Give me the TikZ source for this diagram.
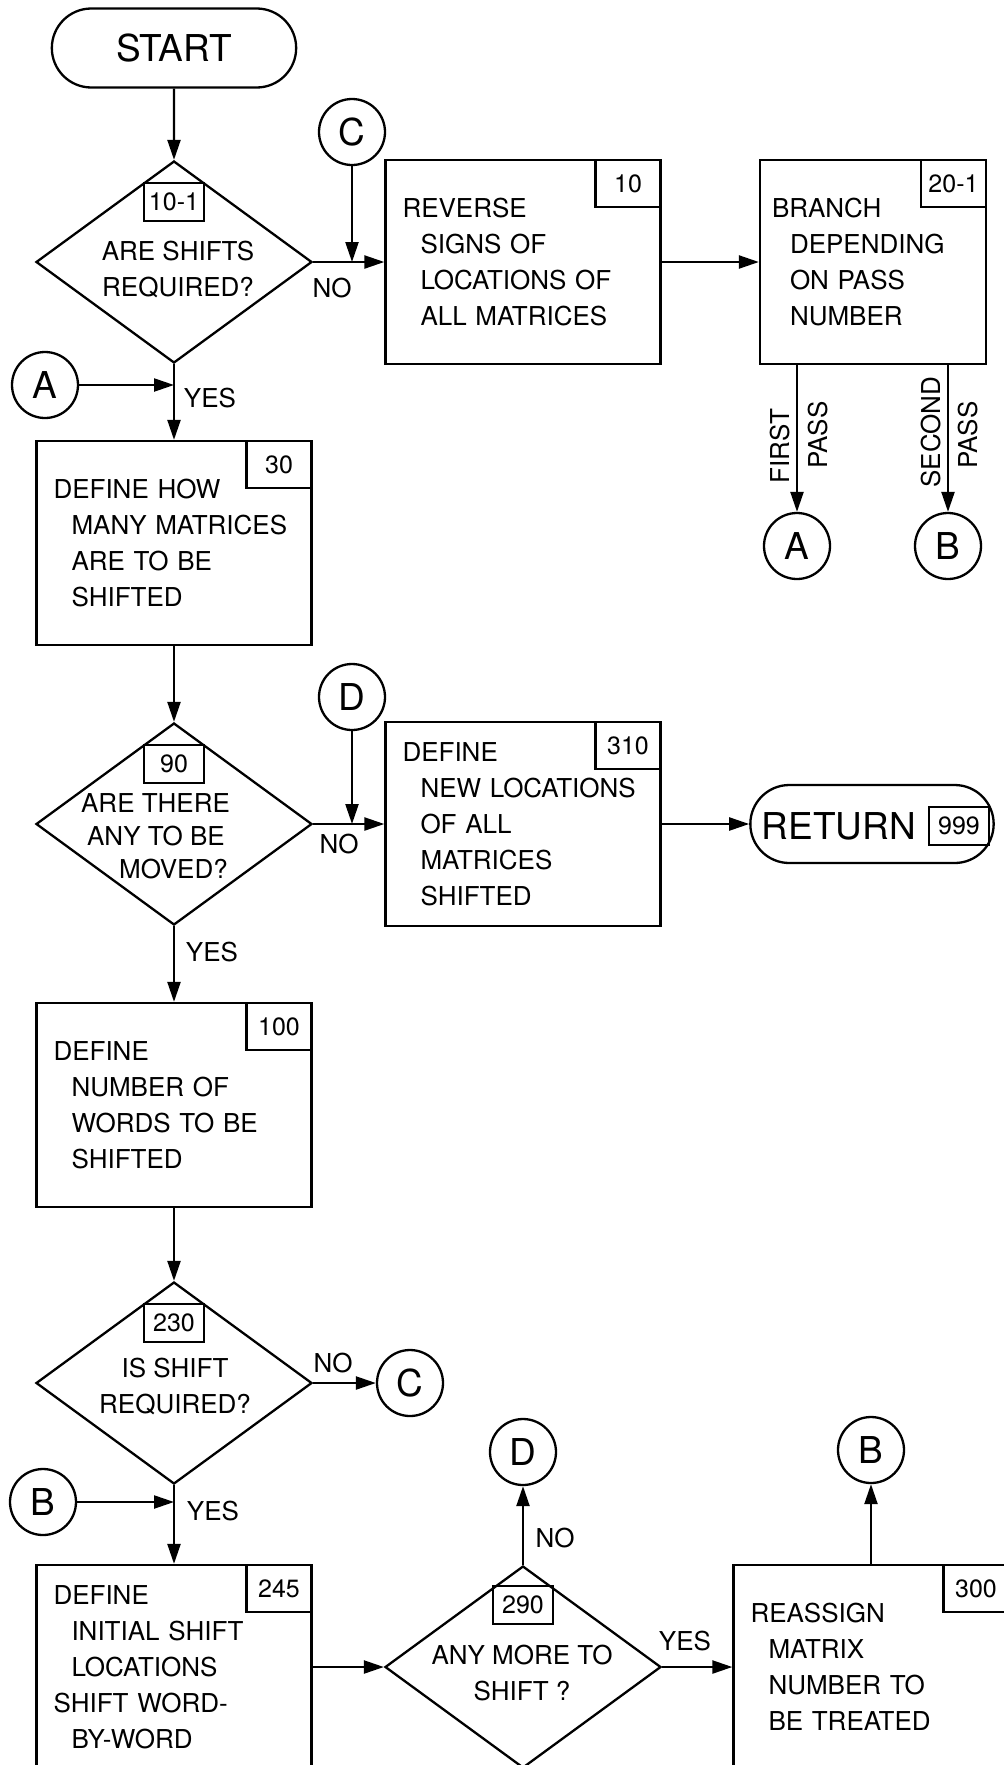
\documentclass[tikz,border=0pt]{standalone}
\usepackage{fontspec}
\setmainfont{TeX Gyre Heros}
\usetikzlibrary{arrows.meta, shapes.geometric, shapes.misc}

\newcommand\lettering{\fontsize{26}{36}\selectfont}
\newcommand\tagsize{\fontsize{25}{28}\selectfont}
\newcommand\bigsize{\fontsize{37}{40}\selectfont}
\newcommand\indnt{\hspace*{18pt}}

\begin{document}
\begin{tikzpicture}[x=1pt, y=-1pt, line width=2.3pt, >={Triangle[length=20pt, width=13pt]},
  term/.style={draw, rounded rectangle, minimum width=251pt, minimum height=79pt, font=\bigsize},
  proc/.style={draw, rectangle, minimum width=275pt, minimum height=204pt,
               inner xsep=17pt, text width=241pt, align=left, font=\lettering},
  decision/.style={draw, diamond, minimum width=276pt, minimum height=202pt, inner sep=0pt},
  qtext/.style={align=center, font=\lettering, inner sep=0pt},
  boxtag/.style={draw, rectangle, minimum width=65pt, minimum height=47pt, inner sep=0pt, font=\tagsize},
  dtag/.style={draw, rectangle, minimum width=60pt, minimum height=38pt, inner sep=0pt, font=\tagsize},
  conn/.style={draw, circle, minimum size=66pt, inner sep=0pt, font=\bigsize},
  lbl/.style={font=\lettering, inner sep=0pt}]
  \useasboundingbox (0,0) rectangle (1004,1765);

  % top row
  \node[term] (start) at (174,48) {START};
  \node[decision] (d1) at (174,262) {};
  \node[dtag] (t101) at (174,202) {10-1};
  \node[qtext] (d1t) at (178,269) {ARE SHIFTS\\REQUIRED?};
  \node[conn] (c1) at (352,132) {C};
  \node[proc] (b10) at (523,262) {REVERSE\\\indnt SIGNS OF\\\indnt LOCATIONS OF\\\indnt ALL MATRICES};
  \node[boxtag, anchor=north east] (t10) at (b10.north east) {10};
  \node[proc, minimum width=226pt, text width=202pt, inner xsep=12pt] (b20) at (873,262)
    {BRANCH\\\indnt DEPENDING\\\indnt ON PASS\\\indnt NUMBER};
  \node[boxtag, anchor=north east] (t201) at (b20.north east) {20-1};
  \node[conn] (a2) at (797,546) {A};
  \node[conn] (bb2) at (948,546) {B};
  \node[lbl, rotate=90] (first) at (780,446) {FIRST};
  \node[lbl, rotate=90] (pass1) at (818,435) {PASS};
  \node[lbl, rotate=90] (second) at (931,432) {SECOND};
  \node[lbl, rotate=90] (pass2) at (968,435) {PASS};

  % second block
  \node[conn] (a1) at (45,385) {A};
  \node[proc] (b30) at (174,543) {DEFINE HOW\\\indnt MANY MATRICES\\\indnt ARE TO BE\\\indnt SHIFTED};
  \node[boxtag, anchor=north east] (t30) at (b30.north east) {30};
  \node[decision] (d2) at (174,824) {};
  \node[dtag] (t90) at (174,764) {90};
  \node[qtext, align=left, anchor=west, font=\fontsize{26}{33}\selectfont] (d2t) at (80,836)
    {ARE THERE\\\hspace*{6pt}ANY TO BE\\\hspace*{38pt}MOVED?};
  \node[conn] (dd1) at (352,697) {D};
  \node[proc] (b310) at (523,824) {DEFINE\\\indnt NEW LOCATIONS\\\indnt OF ALL\\\indnt MATRICES\\\indnt SHIFTED};
  \node[boxtag, anchor=north east] (t310) at (b310.north east) {310};
  \node[term, minimum width=250pt, minimum height=78pt] (ret) at (872,824) {};
  \node[font=\bigsize, inner sep=0pt] (rett) at (839,826) {RETURN};
  \node[dtag] (t999) at (959,826) {999};

  % third block
  \node[proc] (b100) at (174,1105) {DEFINE\\\indnt NUMBER OF\\\indnt WORDS TO BE\\\indnt SHIFTED};
  \node[boxtag, anchor=north east] (t100) at (b100.north east) {100};
  \node[decision] (d3) at (174,1383) {};
  \node[dtag] (t230) at (174,1323) {230};
  \node[qtext] (d3t) at (175,1386) {IS SHIFT\\REQUIRED?};
  \node[conn] (c2) at (410,1383) {C};
  \node[conn] (bb1) at (43,1502) {B};

  % bottom row
  \node[proc] (b245) at (174,1667) {DEFINE\\\indnt INITIAL SHIFT\\\indnt LOCATIONS\\SHIFT WORD-\\\indnt BY-WORD};
  \node[boxtag, anchor=north east] (t245) at (b245.north east) {245};
  \node[decision] (d4) at (523,1667) {};
  \node[dtag] (t290) at (523,1605) {290};
  \node[qtext] (d4t) at (522,1673) {ANY MORE TO\\SHIFT ?};
  \node[conn] (dd2) at (523,1452) {D};
  \node[proc] (b300) at (871,1667) {REASSIGN\\\indnt MATRIX\\\indnt NUMBER TO\\\indnt BE TREATED};
  \node[boxtag, anchor=north east] (t300) at (b300.north east) {300};
  \node[conn] (bb3) at (871,1450) {B};

  % flow lines
  \foreach \from/\to in {start/d1, d1/b10, b10/b20, d1/b30, b30/d2, d2/b310, b310/ret,
                         d2/b100, b100/d3, d3/c2, d3/b245, b245/d4, d4/dd2, d4/b300, b300/bb3}
    \draw[->] (\from) -- (\to);
  \draw[->] (c1) -- (c1 |- d1);
  \draw[->] (dd1) -- (dd1 |- d2);
  \draw[->] (a1) -- (a1 -| d1);
  \draw[->] (bb1) -- (bb1 -| d3);
  \draw[->] (a2 |- b20.south) -- (a2);
  \draw[->] (bb2 |- b20.south) -- (bb2);

  % branch labels
  \node[lbl] (no1) at (332,288) {NO};
  \node[lbl] (yes1) at (210,398) {YES};
  \node[lbl] (no2) at (339,844) {NO};
  \node[lbl] (yes2) at (212,952) {YES};
  \node[lbl] (no3) at (333,1363) {NO};
  \node[lbl] (yes3) at (213,1511) {YES};
  \node[lbl] (no4) at (555,1538) {NO};
  \node[lbl] (yes4) at (685,1641) {YES};
\end{tikzpicture}
\end{document}
